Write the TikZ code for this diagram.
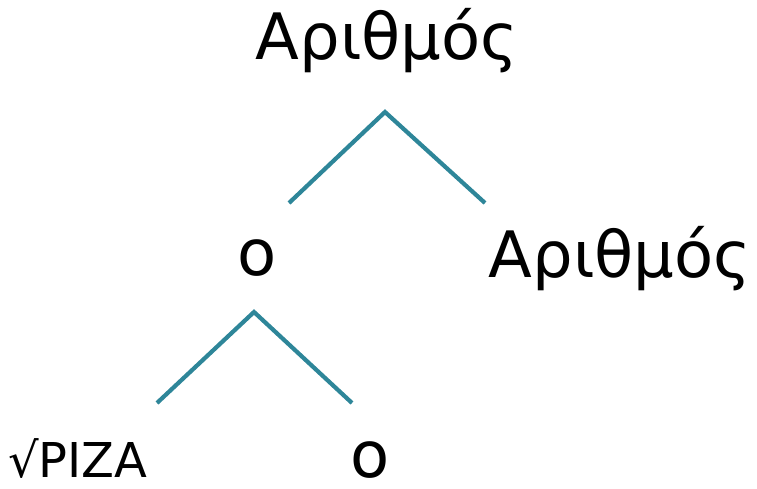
\documentclass[tikz,border=0pt]{standalone}
\usepackage{fontspec}
\setmainfont{DejaVu Sans}
\usetikzlibrary{positioning}
\definecolor{ramacol}{RGB}{46,134,153}

\begin{document}
\begin{tikzpicture}[x=1pt, y=-1pt, line cap=butt,
                  rama/.style={draw=ramacol, line width=4.2pt},
                  palabra/.style={anchor=base, inner sep=0pt,
                  font=\fontsize{64}{70}\selectfont},
                  raiz/.style={anchor=base, inner sep=0pt,
                  font=\fontsize{48}{52}\selectfont}]
                  \useasboundingbox (0,0) rectangle (757,488);

                  % Colocamos las palabras del árbol.
                  \node[palabra] (n0) at (387,59) {Αριθμός};
                  \node[palabra] (n1) at (257,275) {ο};
                  \node[palabra] (n2) at (620,277) {Αριθμός};
                  \node[raiz] (n3) at (78,477) {√ΡΙΖΑ};
                  \node[palabra] (n4) at (370,477) {ο};

                  % Puntos de las ramas.
                  \coordinate (c0) at (385,112);
                  \coordinate (c1) at (289,203);
                  \coordinate (c2) at (485,203);
                  \coordinate (c3) at (254,312);
                  \coordinate (c4) at (157,403);
                  \coordinate (c5) at (352,403);

                  % Dibujamos las ramas.
                  \draw[rama] (c1) -- (c0) -- (c2);
                  \draw[rama] (c4) -- (c3) -- (c5);

                \end{tikzpicture}
\end{document}
